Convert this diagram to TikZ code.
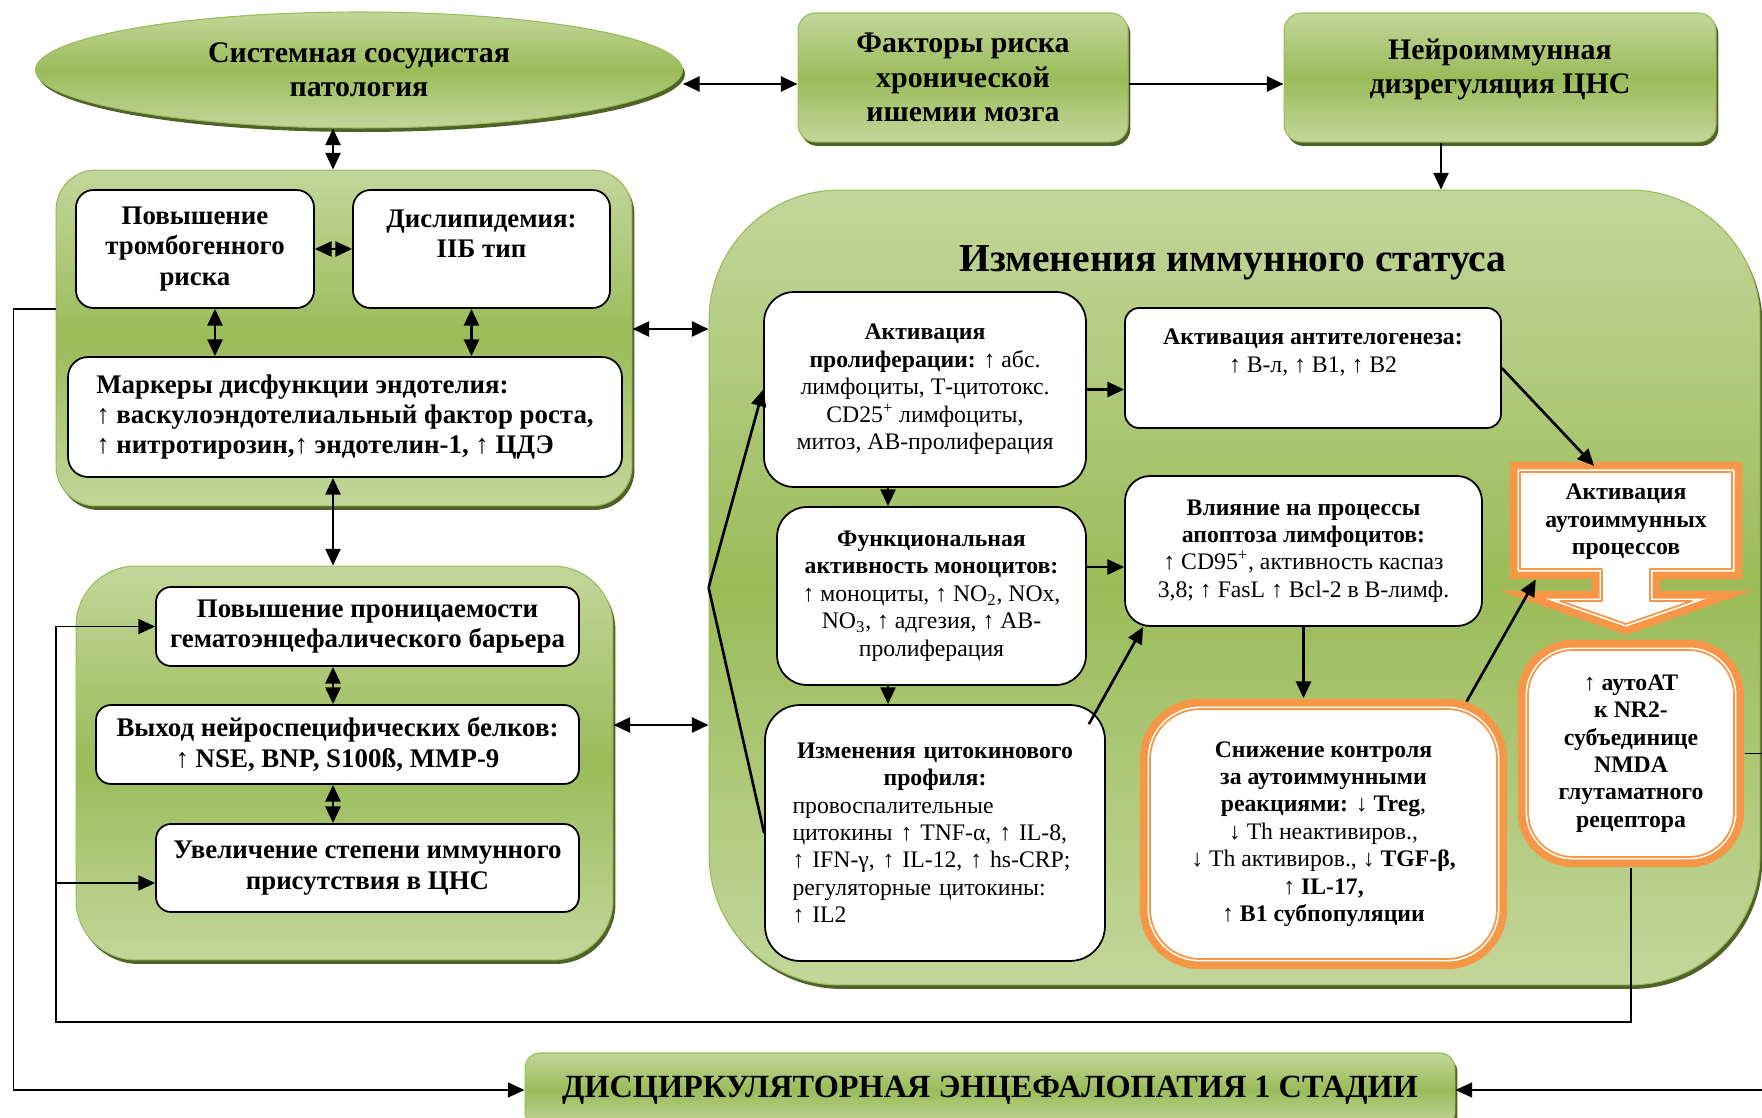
\documentclass[tikz,border=0pt]{standalone}
\usepackage{fontspec}
\setmainfont{Liberation Serif}
\usetikzlibrary{arrows.meta,shapes.geometric,shadows}

\definecolor{grlight}{RGB}{195,214,155}
\definecolor{grmid}{RGB}{155,187,89}
\definecolor{grdark}{RGB}{79,98,40}
\definecolor{orgc}{RGB}{247,150,70}

\newcommand{\toptext}{\fontsize{17}{19.5}\selectfont\bfseries}
\newcommand{\lefttext}{\fontsize{15.3}{17.3}\selectfont\bfseries}
\newcommand{\immtext}{\fontsize{13.5}{15.6}\selectfont}

\begin{document}
\begin{tikzpicture}[
  x=0.02cm, y=-0.02cm,
  grn/.style={draw=grmid, line width=0.6pt, top color=grlight, bottom color=grlight, middle color=grmid,
    drop shadow={shadow xshift=0.05cm, shadow yshift=-0.08cm, fill=grdark, opacity=1}},
  grnbox/.style={grn, rectangle, rounded corners=0.35cm, align=center, font=\toptext},
  wbox/.style={rectangle, draw, line width=1pt, fill=white, rounded corners=0.35cm, align=center},
  ibox/.style={wbox, font=\immtext},
  obox/.style={draw=orgc, line width=1pt, fill=white,
    preaction={draw=orgc, line width=0.41cm},
    preaction={draw=white, line width=0.1cm}},
  link/.style={line width=1.5pt},
  fb/.style={line width=1pt},
  >={Triangle[length=9.5pt,width=8.5pt]}
]
\useasboundingbox (0,0) rectangle (1762,1118);

\node[grn, rectangle, rounded corners=2.6cm, minimum width=21.02cm, minimum height=15.9cm] (imm) at (1234.5,587.5) {};
\node[grn, rectangle, rounded corners=0.8cm, minimum width=11.52cm, minimum height=6.72cm] (grp1) at (344,338) {};
\node[grn, rectangle, rounded corners=1.2cm, minimum width=10.74cm, minimum height=7.88cm] (grp2) at (344.5,763) {};

\node[grn, ellipse, minimum width=12.94cm, minimum height=2.32cm, font=\toptext, align=center] (syst) at (359,70) {Системная сосудистая\\патология};
\node[grnbox, minimum width=6.6cm, minimum height=2.58cm] (fakt) at (963,77.5) {Факторы риска\\хронической\\ишемии мозга};
\node[grnbox, minimum width=8.64cm, minimum height=2.58cm] (neuro) at (1500,77.5) {Нейроиммунная\\дизрегуляция ЦНС\\[-6.5pt]\mbox{}};
\node[grnbox, font=\fontsize{18.4}{22}\selectfont\bfseries, rounded corners=0.3cm, minimum width=18.6cm, minimum height=1.48cm] (dist) at (990,1090) {ДИСЦИРКУЛЯТОРНАЯ ЭНЦЕФАЛОПАТИЯ 1 СТАДИИ};

\node[wbox, font=\lefttext, minimum width=4.76cm, minimum height=2.36cm] (trom) at (195,249) {Повышение\\тромбогенного\\риска};
\node[wbox, font=\lefttext, minimum width=5.14cm, minimum height=2.36cm] (dislip) at (481.5,249) {Дислипидемия:\\IIБ тип\\\mbox{}};
\node[wbox, font=\lefttext, rounded corners=0.4cm, minimum width=11.08cm, minimum height=2.4cm, align=left] (mark) at (345,417) {Маркеры дисфункции эндотелия:\\↑ васкулоэндотелиальный фактор роста,\\↑ нитротирозин,↑ эндотелин-1, ↑ ЦДЭ};

\node[wbox, font=\lefttext, rounded corners=0.3cm, minimum width=8.46cm, minimum height=1.58cm] (pron) at (367.5,626.5) {Повышение проницаемости\\гематоэнцефалического барьера};
\node[wbox, font=\lefttext, rounded corners=0.3cm, minimum width=9.66cm, minimum height=1.58cm] (vyh) at (337.5,744.5) {Выход нейроспецифических белков:\\↑ NSE, BNP, S100ß, MMP-9};
\node[wbox, font=\lefttext, rounded corners=0.3cm, minimum width=8.46cm, minimum height=1.76cm] (uvel) at (367.5,868) {Увеличение степени иммунного\\присутствия в ЦНС};

\node[font=\fontsize{22.5}{27}\selectfont\bfseries] (title) at (1233,263) {Изменения иммунного статуса};

\node[ibox, rounded corners=0.6cm, minimum width=6.44cm, minimum height=3.9cm] (prolif) at (925,389.5) {\textbf{Активация}\\\textbf{пролиферации:} ↑ абс.\\лимфоциты, Т-цитотокс.\\CD25\textsuperscript{+} лимфоциты,\\митоз, АВ-пролиферация};
\node[ibox, rounded corners=0.28cm, minimum width=7.52cm, minimum height=2.4cm] (antitel) at (1313,368) {\textbf{Активация антителогенеза:}\\↑ В-л, ↑ В1, ↑ В2\\[4pt]\mbox{}};
\node[ibox, rounded corners=0.6cm, minimum width=6.18cm, minimum height=3.56cm] (mono) at (931.5,596) {\textbf{Функциональная}\\\textbf{активность моноцитов:}\\↑ моноциты, ↑ NO\textsubscript{2}, NOx,\\NO\textsubscript{3}, ↑ адгезия, ↑ АВ-\\пролиферация};
\node[ibox, rounded corners=0.5cm, minimum width=7.14cm, minimum height=3cm] (vliy) at (1303.5,551) {\textbf{Влияние на процессы}\\\textbf{апоптоза лимфоцитов:}\\↑ CD95\textsuperscript{+}, активность каспаз\\3,8; ↑ FasL ↑ Bcl-2 в В-лимф.};
\node[ibox, rounded corners=0.7cm, minimum width=6.8cm, minimum height=5.12cm, text width=5.7cm, align=left] (cytok) at (935,833) {{\centering\bfseries Изменения цитокинового\\профиля:\par}провоспалительные\\цитокины ↑ TNF-α, ↑ IL-8,\\↑ IFN-γ, ↑ IL-12, ↑ hs-CRP;\\регуляторные цитокины:\\↑ IL2};

\node[obox, font=\immtext, align=center, rounded corners=1cm, minimum width=6.94cm, minimum height=5cm] (snizh) at (1323.5,834) {\textbf{Снижение контроля}\\\textbf{за аутоиммунными}\\\textbf{реакциями: ↓ Treg},\\↓ Th неактивиров.,\\↓ Th активиров., ↓ \textbf{TGF-β,}\\↑ \textbf{IL-17,}\\↑ \textbf{B1 субпопуляции}};
\node[obox, font=\immtext\bfseries, align=center, rounded corners=0.9cm, minimum width=4.12cm, minimum height=4.14cm] (nmda) at (1631,753.5) {↑ аутоАТ\\к NR2-\\субъединице\\NMDA\\глутаматного\\рецептора};
\draw[obox, line join=round] (1520,472) -- (1732,472) -- (1732,569) -- (1650,569) -- (1650,601) -- (1692,601) -- (1626,624) -- (1560,601) -- (1602,601) -- (1602,569) -- (1520,569) -- cycle;
\node[font=\immtext\bfseries, align=center, minimum width=4.24cm, minimum height=1.94cm] (autoimm) at (1626,522) {Активация\\аутоиммунных\\процессов};

\draw[link,<->] ([yshift=-0.13cm]fakt.west -| syst.east) -- ([yshift=-0.13cm]fakt.west);
\draw[link,->] ([yshift=-0.13cm]fakt.east) -- ([yshift=-0.13cm]neuro.west);
\draw[link,->] ([xshift=-1.18cm]neuro.south) -- ([xshift=-1.18cm]neuro.south |- imm.north);
\draw[link,<->] ([xshift=-0.22cm]grp1.north |- syst.south) -- ([xshift=-0.22cm]grp1.north);
\draw[link,<->] (trom.east) -- (dislip.west);
\draw[link,<->] ([xshift=0.4cm]trom.south) -- ([xshift=0.4cm]trom.south |- mark.north);
\draw[link,<->] ([xshift=-0.2cm]dislip.south) -- ([xshift=-0.2cm]dislip.south |- mark.north);
\draw[link,<->] ([xshift=-0.24cm]mark.south) -- ([xshift=-0.24cm]mark.south |- grp2.north);
\draw[link,<->] ([xshift=-0.69cm]pron.south) -- ([xshift=-0.69cm]pron.south |- vyh.north);
\draw[link,<->] ([xshift=-0.09cm]vyh.south) -- ([xshift=-0.09cm]vyh.south |- uvel.north);
\draw[link,<->] ([yshift=0.18cm]grp1.east) -- ([yshift=0.18cm]grp1.east -| imm.west);
\draw[link,<->] ([yshift=0.76cm]grp2.east) -- ([yshift=0.76cm]grp2.east -| imm.west);

\draw[link,->] (imm.west) -- (prolif.west);
\draw[link] (imm.west) -- (cytok.west);
\draw[link,->] (prolif.east) -- (prolif.east -| antitel.west);
\draw[link,->] ([xshift=-0.74cm]prolif.south) -- ([xshift=-0.74cm]prolif.south |- mono.north);
\draw[link,->] ([xshift=-0.87cm]mono.south) -- ([xshift=-0.87cm]mono.south |- cytok.north);
\draw[link,->] ([yshift=0.58cm]mono.east) -- ([yshift=0.58cm]mono.east -| vliy.west);
\draw[link,->] ([xshift=-0.34cm,yshift=-0.4cm]cytok.north east) -- ([xshift=0.38cm]vliy.south west);
\draw[link,->,shorten >=0.2cm] (vliy.south) -- (vliy.south |- snizh.north);
\draw[link,->,shorten <=0.15cm,shorten >=0.2cm] ([xshift=-0.7cm]snizh.north east) -- ([xshift=0.42cm]autoimm.south west);
\draw[link,->,shorten >=0.2cm] (antitel.east) -- ([xshift=-0.5cm]autoimm.north);

\coordinate (loop) at (56,1022);
\draw[fb,->,shorten <=0.2cm] (nmda.south) |- (loop) |- (pron.west);
\draw[fb,->] ([yshift=-0.3cm]uvel.west -| loop) -- ([yshift=-0.3cm]uvel.west);
\draw[fb,->] ([yshift=0.58cm]grp1.west) -- ++(-42,0) |- (dist.west);
\draw[fb,->,shorten <=0.2cm] (nmda.east) -- ++(40,0) |- (dist.east);
\end{tikzpicture}
\end{document}
